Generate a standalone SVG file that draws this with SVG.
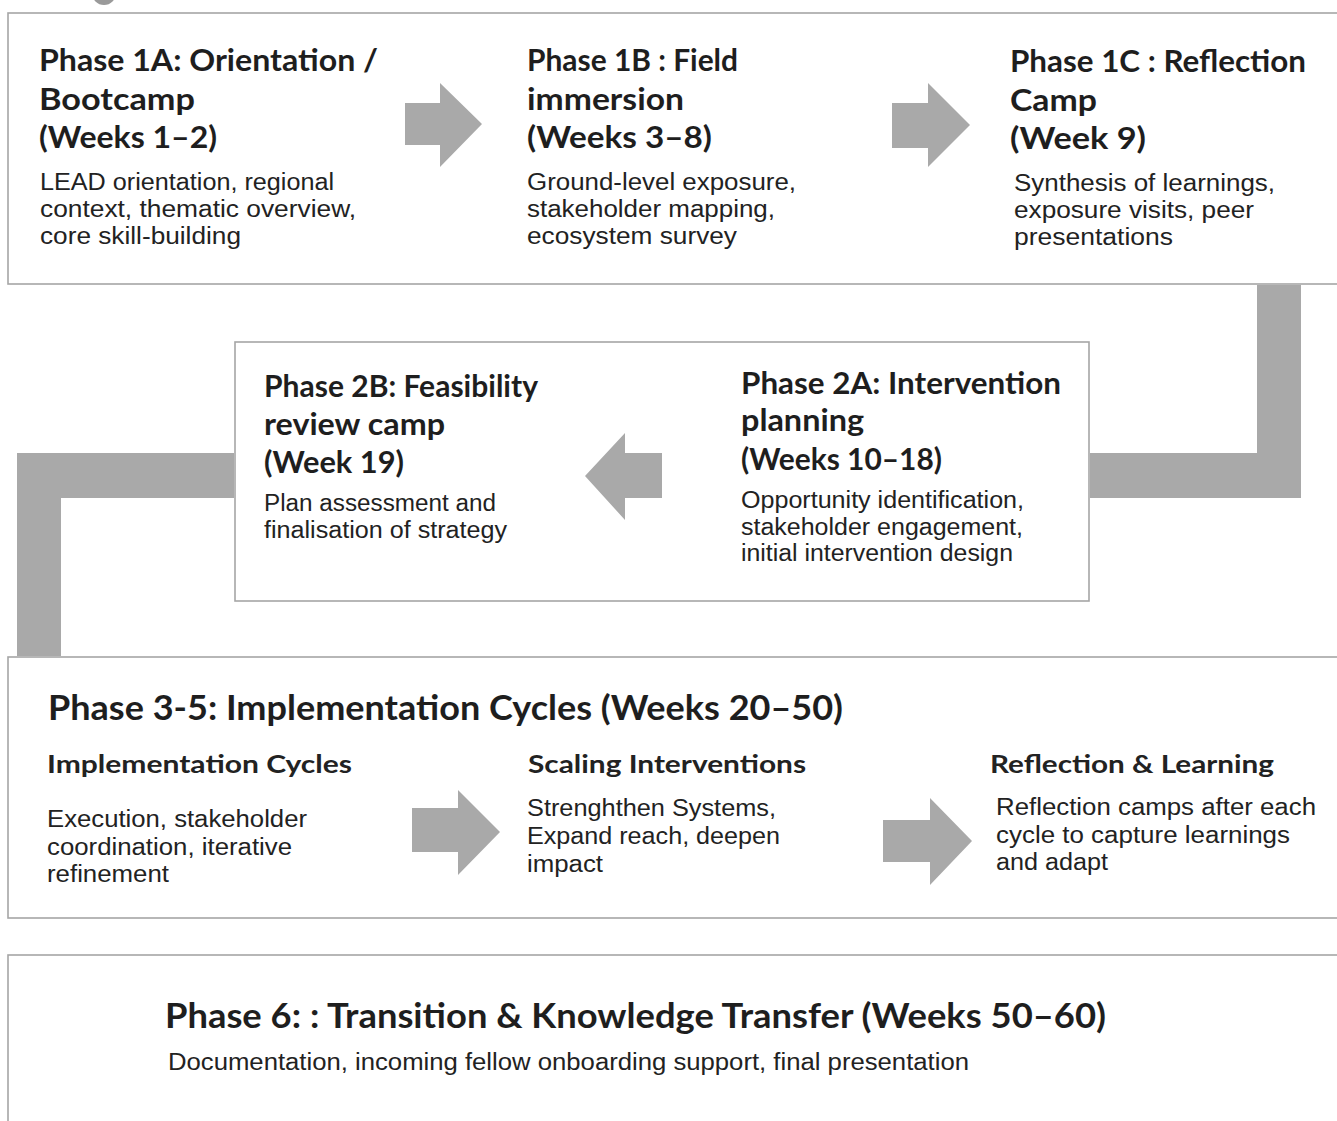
<svg xmlns="http://www.w3.org/2000/svg" width="1337" height="1121" viewBox="0 0 1337 1121">
<style>
.box{fill:#ffffff;stroke:#a6a6a6;stroke-width:1.6}
.conn{fill:#a9a9a9}
.h{font-family:Lato,"Open Sans",sans-serif;font-weight:700;font-size:30px;fill:#1e1e1e}
.hb{font-family:Lato,"Open Sans",sans-serif;font-weight:700;font-size:34px;fill:#1e1e1e}
.s{font-family:Lato,"Liberation Sans",sans-serif;font-weight:700;font-size:25px;fill:#222}
.b{font-family:"Liberation Sans","Noto Sans",sans-serif;font-size:23px;fill:#222}
</style>
<rect x="0" y="0" width="1337" height="1121" fill="#ffffff"/>
<circle cx="104" cy="-7" r="12" fill="#9a9a9a"/>

<g id="phase1">
  <rect class="box" x="8" y="13" width="1340" height="271"/>
</g>
<g id="phase1a">
  <text class="h" x="39" y="71" textLength="339" lengthAdjust="spacingAndGlyphs">Phase 1A: Orientation /</text>
  <text class="h" x="39" y="110" textLength="156" lengthAdjust="spacingAndGlyphs">Bootcamp</text>
  <text class="h" x="39" y="148" textLength="178" lengthAdjust="spacingAndGlyphs">(Weeks 1–2)</text>
  <text class="b" x="40" y="190" textLength="294" lengthAdjust="spacingAndGlyphs">LEAD orientation, regional</text>
  <text class="b" x="40" y="217" textLength="316" lengthAdjust="spacingAndGlyphs">context, thematic overview,</text>
  <text class="b" x="40" y="244" textLength="201" lengthAdjust="spacingAndGlyphs">core skill-building</text>
</g>
<g id="phase1b">
  <text class="h" x="527" y="71" textLength="211" lengthAdjust="spacingAndGlyphs">Phase 1B : Field</text>
  <text class="h" x="527" y="110" textLength="157" lengthAdjust="spacingAndGlyphs">immersion</text>
  <text class="h" x="527" y="148" textLength="185" lengthAdjust="spacingAndGlyphs">(Weeks 3–8)</text>
  <text class="b" x="527" y="190" textLength="269" lengthAdjust="spacingAndGlyphs">Ground-level exposure,</text>
  <text class="b" x="527" y="217" textLength="248" lengthAdjust="spacingAndGlyphs">stakeholder mapping,</text>
  <text class="b" x="527" y="244" textLength="210" lengthAdjust="spacingAndGlyphs">ecosystem survey</text>
</g>
<g id="phase1c">
  <text class="h" x="1010" y="72" textLength="296" lengthAdjust="spacingAndGlyphs">Phase 1C : Reflection</text>
  <text class="h" x="1010" y="111" textLength="87" lengthAdjust="spacingAndGlyphs">Camp</text>
  <text class="h" x="1010" y="149" textLength="136" lengthAdjust="spacingAndGlyphs">(Week 9)</text>
  <text class="b" x="1014" y="191" textLength="261" lengthAdjust="spacingAndGlyphs">Synthesis of learnings,</text>
  <text class="b" x="1014" y="218" textLength="240" lengthAdjust="spacingAndGlyphs">exposure visits, peer</text>
  <text class="b" x="1014" y="245" textLength="159" lengthAdjust="spacingAndGlyphs">presentations</text>
</g>

<g id="phase2">
  <rect class="box" x="235" y="342" width="854" height="259"/>
</g>
<g id="phase2b">
  <text class="h" x="264" y="397" textLength="274" lengthAdjust="spacingAndGlyphs">Phase 2B: Feasibility</text>
  <text class="h" x="264" y="435" textLength="181" lengthAdjust="spacingAndGlyphs">review camp</text>
  <text class="h" x="264" y="473" textLength="140" lengthAdjust="spacingAndGlyphs">(Week 19)</text>
  <text class="b" x="264" y="511" textLength="232" lengthAdjust="spacingAndGlyphs">Plan assessment and</text>
  <text class="b" x="264" y="538" textLength="243" lengthAdjust="spacingAndGlyphs">finalisation of strategy</text>
</g>
<g id="phase2a">
  <text class="h" x="741" y="394" textLength="320" lengthAdjust="spacingAndGlyphs">Phase 2A: Intervention</text>
  <text class="h" x="741" y="431" textLength="123" lengthAdjust="spacingAndGlyphs">planning</text>
  <text class="h" x="741" y="470" textLength="201" lengthAdjust="spacingAndGlyphs">(Weeks 10–18)</text>
  <text class="b" x="741" y="508" textLength="283" lengthAdjust="spacingAndGlyphs">Opportunity identification,</text>
  <text class="b" x="741" y="535" textLength="282" lengthAdjust="spacingAndGlyphs">stakeholder engagement,</text>
  <text class="b" x="741" y="561" textLength="272" lengthAdjust="spacingAndGlyphs">initial intervention design</text>
</g>

<g id="phase3-5">
  <rect class="box" x="8" y="657" width="1340" height="261"/>
  <text class="hb" x="48" y="720" textLength="795" lengthAdjust="spacingAndGlyphs">Phase 3-5: Implementation Cycles (Weeks 20–50)</text>
</g>
<g id="implementation-cycles">
  <text class="s" x="47" y="773" textLength="305" lengthAdjust="spacingAndGlyphs">Implementation Cycles</text>
  <text class="b" x="47" y="827" textLength="260" lengthAdjust="spacingAndGlyphs">Execution, stakeholder</text>
  <text class="b" x="47" y="855" textLength="245" lengthAdjust="spacingAndGlyphs">coordination, iterative</text>
  <text class="b" x="47" y="882" textLength="122" lengthAdjust="spacingAndGlyphs">refinement</text>
</g>
<g id="scaling-interventions">
  <text class="s" x="528" y="773" textLength="278" lengthAdjust="spacingAndGlyphs">Scaling Interventions</text>
  <text class="b" x="527" y="816" textLength="249" lengthAdjust="spacingAndGlyphs">Strenghthen Systems,</text>
  <text class="b" x="527" y="844" textLength="253" lengthAdjust="spacingAndGlyphs">Expand reach, deepen</text>
  <text class="b" x="527" y="872" textLength="76" lengthAdjust="spacingAndGlyphs">impact</text>
</g>
<g id="reflection-learning">
  <text class="s" x="990" y="773" textLength="284" lengthAdjust="spacingAndGlyphs">Reflection &amp; Learning</text>
  <text class="b" x="996" y="815" textLength="320" lengthAdjust="spacingAndGlyphs">Reflection camps after each</text>
  <text class="b" x="996" y="843" textLength="294" lengthAdjust="spacingAndGlyphs">cycle to capture learnings</text>
  <text class="b" x="996" y="870" textLength="112" lengthAdjust="spacingAndGlyphs">and adapt</text>
</g>

<g id="phase6">
  <rect class="box" x="8" y="955" width="1340" height="200"/>
  <text class="hb" x="165" y="1028" textLength="941" lengthAdjust="spacingAndGlyphs">Phase 6: : Transition &amp; Knowledge Transfer (Weeks 50–60)</text>
  <text class="b" x="168" y="1070" textLength="801" lengthAdjust="spacingAndGlyphs">Documentation, incoming fellow onboarding support, final presentation</text>
</g>

<g id="connectors">
  <path class="conn" d="M1257,285 H1301 V498 H1090 V453 H1257 Z"/>
  <path class="conn" d="M234,453 V498 H61 V656 H17 V453 Z"/>
  <path class="conn" d="M405,103 H440 V83 L482,124 L440,167 V145 H405 Z"/>
  <path class="conn" d="M892,103 H928 V83 L970,125 L928,167 V148 H892 Z"/>
  <path class="conn" d="M662,453 H625 V433 L585,476 L625,520 V498 H662 Z"/>
  <path class="conn" d="M412,808 H458 V790 L500,832 L458,875 V852 H412 Z"/>
  <path class="conn" d="M883,820 H930 V798 L972,841 L930,885 V862 H883 Z"/>
</g>
</svg>
